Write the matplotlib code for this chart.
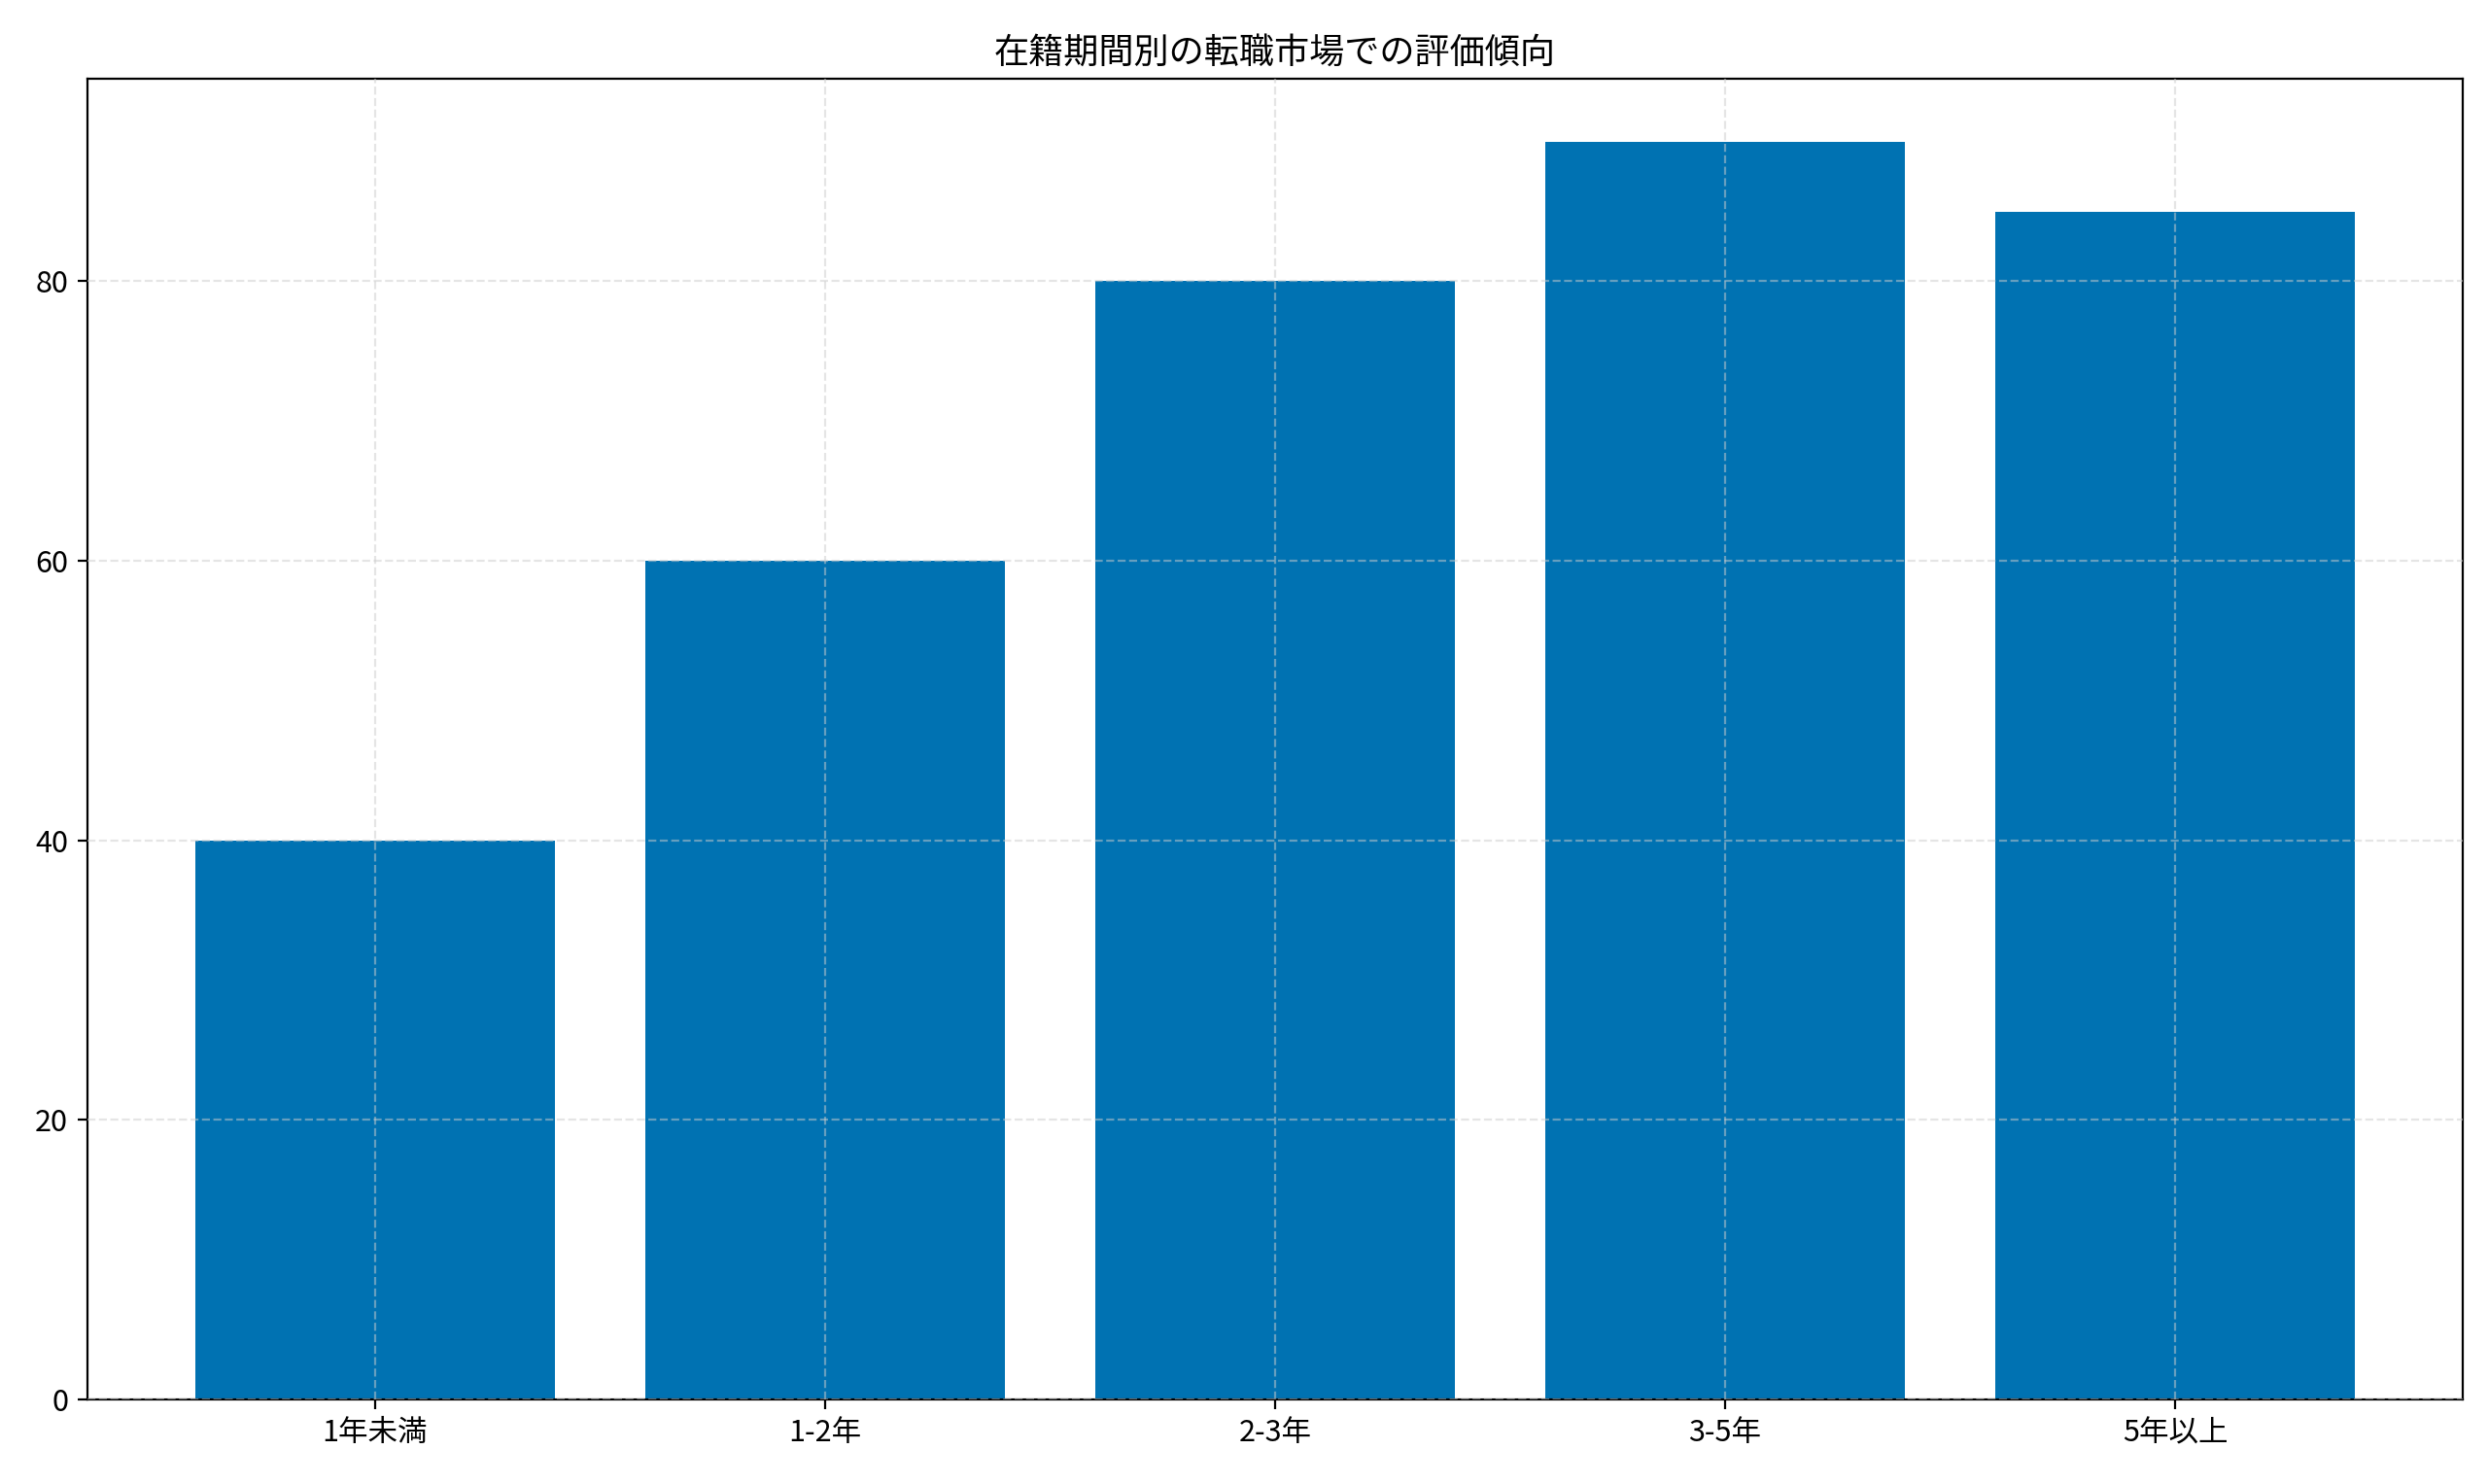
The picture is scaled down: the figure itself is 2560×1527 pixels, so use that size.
import matplotlib
matplotlib.use("Agg")
import matplotlib.pyplot as plt

plt.rcParams['font.family'] = ['Noto Sans CJK JP', 'DejaVu Sans']

categories = ["1年未満", "1-2年", "2-3年", "3-5年", "5年以上"]
values = [40, 60, 80, 90, 85]

fig = plt.figure(figsize=(12.8, 7.635), dpi=200)
ax = fig.add_axes([0.035, 0.057, 0.955, 0.89])
ax.bar(categories, values, width=0.8, color="#0072B2")
ax.set_ylim(0, 94.5)
ax.set_axisbelow(False)
ax.grid(True, linestyle="--", color="#cccccc", alpha=0.5, linewidth=0.8)
ax.set_yticks([0, 20, 40, 60, 80])
ax.tick_params(labelsize=11)
ax.set_title("在籍期間別の転職市場での評価傾向", fontsize=13)
fig.savefig("out.png", dpi=200)
